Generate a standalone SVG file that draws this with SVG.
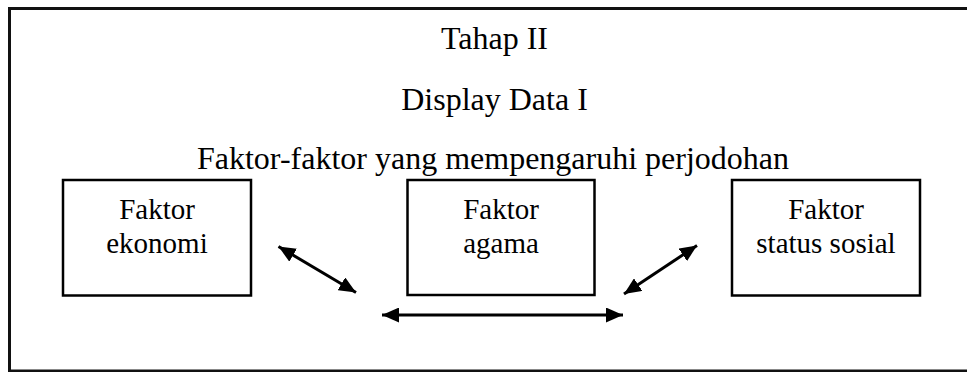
<svg xmlns="http://www.w3.org/2000/svg" width="967" height="372" viewBox="0 0 967 372">
<style>
  .t { font-family: "Liberation Serif", "Times New Roman", serif; fill: #000; text-anchor: middle; }
  .h { font-size: 32px; }
  .b { font-size: 29px; }
  .box { fill: #fff; stroke: #000; stroke-width: 2.5; }
  .conn { stroke: #000; stroke-width: 3; fill: none; marker-start: url(#ah); marker-end: url(#ah); }
</style>
<defs>
  <marker id="ah" viewBox="0 0 17 15" refX="17" refY="7.5" markerWidth="17" markerHeight="15" markerUnits="userSpaceOnUse" orient="auto-start-reverse">
    <path d="M0,0 L17,7.5 L0,15 z" fill="#000"/>
  </marker>
</defs>
<rect width="967" height="372" fill="#fff"/>
<rect id="frame" x="9.5" y="8.5" width="975" height="362.5" fill="none" stroke="#111" stroke-width="3"/>
<g id="titles">
  <text class="t h" x="494.5" y="49">Tahap II</text>
  <text class="t h" x="494.5" y="110">Display Data I</text>
  <text class="t h" x="493" y="169">Faktor-faktor yang mempengaruhi perjodohan</text>
</g>
<g id="node-ekonomi">
  <rect class="box" x="63" y="180" width="188" height="115.5"/>
  <text class="t b" x="157" y="219">Faktor</text>
  <text class="t b" x="157" y="253">ekonomi</text>
</g>
<g id="node-agama">
  <rect class="box" x="407.5" y="180" width="187" height="115"/>
  <text class="t b" x="501" y="219">Faktor</text>
  <text class="t b" x="501" y="253">agama</text>
</g>
<g id="node-status">
  <rect class="box" x="732" y="180" width="188" height="115.5"/>
  <text class="t b" x="826" y="219">Faktor</text>
  <text class="t b" x="826" y="253">status sosial</text>
</g>
<g id="connectors">
  <path class="conn" d="M278.5,246.5 L356,292.5"/>
  <path class="conn" d="M382,315 L623,315"/>
  <path class="conn" d="M697,245.5 L624,294"/>
</g>
</svg>
